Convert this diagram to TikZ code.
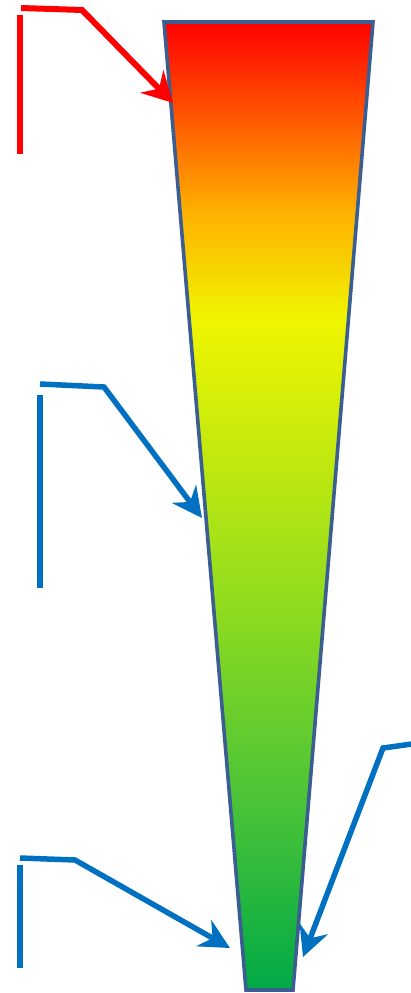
\documentclass[tikz,border=0pt]{standalone}
\usepackage{tikz}
\usetikzlibrary{arrows.meta,calc}
\definecolor{wedgeRed}{RGB}{255,0,0}
\definecolor{wedgeOrange}{RGB}{255,90,0}
\definecolor{wedgeAmber}{RGB}{255,175,0}
\definecolor{wedgeYellow}{RGB}{240,245,0}
\definecolor{wedgeLime}{RGB}{145,220,30}
\definecolor{wedgeGreen}{RGB}{75,195,55}
\definecolor{wedgeDark}{RGB}{0,170,70}
\definecolor{wedgeEdge}{RGB}{58,94,145}
\definecolor{markRed}{RGB}{255,0,0}
\definecolor{markBlue}{RGB}{0,112,192}
\pgfdeclareverticalshading{wedgeShade}{100bp}{
    color(0bp)=(wedgeDark);
    color(25bp)=(wedgeDark);
    color(34.8bp)=(wedgeGreen);
    color(45.1bp)=(wedgeLime);
    color(59.6bp)=(wedgeYellow);
    color(65.3bp)=(wedgeAmber);
    color(69.9bp)=(wedgeOrange);
    color(75bp)=(wedgeRed);
    color(100bp)=(wedgeRed)
}
\tikzset{
    wedge/.style={
        shading=wedgeShade,
        draw=wedgeEdge,
        line width=3.6pt,
        line join=miter
    },
    % Markers
    redBar/.style={draw=markRed, line width=6pt},
    blueBar/.style={draw=markBlue, line width=5.5pt},
    redPointer/.style={redBar, line join=miter, -{Stealth[length=30pt, width=32pt, inset=10pt]}},
    bluePointer/.style={blueBar, line join=miter, -{Stealth[length=30pt, width=30pt, inset=10pt]}}
}
\begin{document}
\begin{tikzpicture}[x=1pt, y=-1pt]
\useasboundingbox (0,0) rectangle (411,993);
% wedge corners
\coordinate (topL) at (164,22);
\coordinate (topR) at (373,22);
\coordinate (botR) at (293,990);
\coordinate (botL) at (246,990);
\path[wedge] (topL) -- (topR) -- (botR) -- (botL) -- cycle;

% top marker (red)
\coordinate (redTop) at (20,15);
\coordinate (redBot) at (20,154);
\coordinate (redStart) at (21,8);
\coordinate (redBend) at (82,10);
\coordinate (redTip) at (173,103);
\draw[redBar] (redTop) -- (redBot);
\draw[redPointer] (redStart) -- (redBend) -- (redTip);

% middle marker
\coordinate (midTop) at (40,395);
\coordinate (midBot) at (40,588);
\coordinate (midStart) at (40,384);
\coordinate (midBend) at (104,387);
\coordinate (midTip) at (202,518);
\draw[blueBar] (midTop) -- (midBot);
\draw[bluePointer] (midStart) -- (midBend) -- (midTip);

% lower left marker
\coordinate (lowTop) at (20,865);
\coordinate (lowBot) at (20,968);
\coordinate (lowStart) at (20,858);
\coordinate (lowBend) at (75,860);
\coordinate (lowTip) at (230,948);
\draw[blueBar] (lowTop) -- (lowBot);
\draw[bluePointer] (lowStart) -- (lowBend) -- (lowTip);

% lower right marker
\coordinate (rightStart) at (412,744);
\coordinate (rightBend) at (383,748);
\coordinate (rightTip) at (303,957);
\draw[bluePointer] (rightStart) -- (rightBend) -- (rightTip);
\end{tikzpicture}
\end{document}
